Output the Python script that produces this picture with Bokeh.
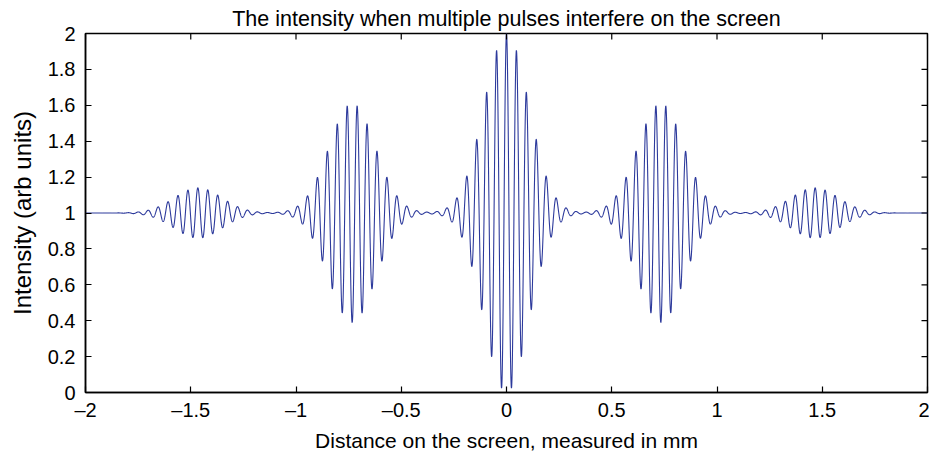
import numpy as np
from bokeh.plotting import figure
from bokeh.models import FixedTicker, Range1d, ColumnDataSource
from bokeh.embed import file_html
from bokeh.resources import INLINE

# ---- data ----
fringe_period = 0.0473                      # mm, spacing of fringes
packet_centers = [-1.465, -0.733, 0.0, 0.733, 1.465]   # mm
packet_amplitudes = [0.14, 0.61, 1.0, 0.61, 0.14]      # fringe visibility of each packet
packet_widths = [0.16, 0.156, 0.15, 0.156, 0.16]       # mm, 1/e half width of envelope
baseline_intensity = 1.0

x_ticks = [-2, -1.5, -1, -0.5, 0, 0.5, 1, 1.5, 2]
x_tick_labels = ["\u20132", "\u20131.5", "\u20131", "\u20130.5", "0", "0.5", "1", "1.5", "2"]
y_ticks = [0, 0.2, 0.4, 0.6, 0.8, 1, 1.2, 1.4, 1.6, 1.8, 2]
y_tick_labels = ["0", "0.2", "0.4", "0.6", "0.8", "1", "1.2", "1.4", "1.6", "1.8", "2"]

title_text = "The intensity when multiple pulses interfere on the screen"
x_label = "Distance on the screen, measured in mm"
y_label = "Intensity (arb units)"

# ---- build the curve from the packet parameters ----
x = np.linspace(-2, 2, 8001)
envelope = np.zeros_like(x)
for c, a, w in zip(packet_centers, packet_amplitudes, packet_widths):
    envelope += a * np.exp(-((x - c) / w) ** 2)
intensity = baseline_intensity + envelope * np.cos(2 * np.pi * x / fringe_period)
source = ColumnDataSource(dict(x=x, y=intensity))

x_min, x_max = x_ticks[0], x_ticks[-1]
y_min, y_max = y_ticks[0], y_ticks[-1]

FONT = "Liberation Sans"

p = figure(width=929, height=454, output_backend="svg", toolbar_location=None,
           x_range=Range1d(x_min, x_max), y_range=Range1d(y_min, y_max),
           min_border_left=85, min_border_right=2, min_border_top=33, min_border_bottom=62)
p.background_fill_color = "white"
p.border_fill_color = "white"
p.grid.visible = False
p.outline_line_color = "black"
p.outline_line_width = 1.5

p.title.text = title_text
p.title.text_font = FONT
p.title.text_font_size = "21.5px"
p.title.text_font_style = "normal"
p.title.align = "center"
p.title.text_color = "black"
p.title.standoff = 5

p.line("x", "y", source=source, line_color="#2d3a9c", line_width=1.1)

# inward ticks on the top and right edges of the box (mirror of bottom/left axes)
p.ray(x=x_ticks, y=[y_max] * len(x_ticks), length=6, length_units="screen",
      angle=-np.pi / 2, line_color="black", line_width=1.2)
p.ray(x=[x_max] * len(y_ticks), y=y_ticks, length=6, length_units="screen",
      angle=np.pi, line_color="black", line_width=1.2)

def style_axis(ax, ticks, labels):
    ax.ticker = FixedTicker(ticks=ticks)
    ax.major_label_overrides = {t: l for t, l in zip(ticks, labels)}
    ax.minor_tick_line_color = None
    ax.major_tick_in = 6
    ax.major_tick_out = 0
    ax.major_tick_line_color = "black"
    ax.major_tick_line_width = 1.2
    ax.axis_line_color = "black"
    ax.axis_line_width = 1.5
    ax.major_label_text_font = FONT
    ax.major_label_text_font_size = "20px"
    ax.major_label_text_color = "black"
    ax.axis_label_text_font = FONT
    ax.axis_label_text_font_style = "normal"
    ax.axis_label_text_color = "black"
    ax.axis_label_text_font_size = "21px"

xa = p.xaxis[0]
style_axis(xa, x_ticks, x_tick_labels)
xa.axis_label = x_label
xa.major_label_standoff = 6
xa.axis_label_standoff = 5

ya = p.yaxis[0]
style_axis(ya, y_ticks, y_tick_labels)
ya.axis_label = y_label
ya.axis_label_text_font_size = "24px"
ya.major_label_standoff = 10
ya.axis_label_standoff = 9

open("out.html", "w").write(file_html(p, INLINE))
